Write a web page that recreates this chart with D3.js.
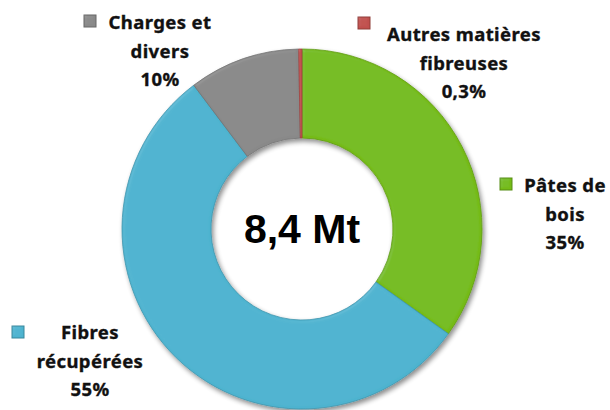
<!DOCTYPE html>
<html>
<head>
<meta charset="utf-8">
<script src="https://cdn.jsdelivr.net/npm/d3@7"></script>
<style>
  body { margin: 0; background: #fff; }
  .lbl { font-family: "Noto Sans", "DejaVu Sans", sans-serif; font-weight: 700; font-size: 18.5px; letter-spacing: 0.4px; fill: #111; stroke: #111; stroke-width: 0.35px; }
  .total { font-family: "Liberation Sans", Arial, sans-serif; font-weight: 700; font-size: 41px; fill: #000; }
</style>
</head>
<body>
<svg id="chart" width="610" height="410"></svg>
<script>
// data, in drawing order (clockwise from 12 o'clock)
const categories = ["Pâtes de bois", "Fibres récupérées", "Charges et divers", "Autres matières fibreuses"];
const shares = [35, 55, 10, 0.3];
const shareLabels = ["35%", "55%", "10%", "0,3%"];
const labelLines = [["Pâtes de", "bois"], ["Fibres", "récupérées"], ["Charges et", "divers"], ["Autres matières", "fibreuses"]];
const colors = ["#74bb17", "#4db3cf", "#898989", "#c0504d"];
const totalLabel = "8,4 Mt";

// label placement (text centre x, first baseline y, legend key x/y)
const labelPos = [
    {x: 565, y: 192, kx: 500, ky: 178},
    {x: 90, y: 339, kx: 12, ky: 326},
    {x: 160, y: 29, kx: 84, ky: 15},
    {x: 464, y: 41, kx: 358, ky: 17}
];

const svg = d3.select("#chart");
const cx = 302, cy = 229;
const outerR = 180, innerR = 91;

const defs = svg.append("defs");

// drop shadow
const shadow = defs.append("filter")
    .attr("id", "shadow")
    .attr("x", "-20%").attr("y", "-20%")
    .attr("width", "140%").attr("height", "140%");
shadow.append("feGaussianBlur").attr("in", "SourceAlpha").attr("stdDeviation", 2.5).attr("result", "blur");
shadow.append("feOffset").attr("in", "blur").attr("dx", 2).attr("dy", 3).attr("result", "off");
shadow.append("feComponentTransfer").attr("in", "off").attr("result", "soft")
    .append("feFuncA").attr("type", "linear").attr("slope", 0.45);
const merge = shadow.append("feMerge");
merge.append("feMergeNode").attr("in", "soft");
merge.append("feMergeNode").attr("in", "SourceGraphic");

// soft bevel on slice edges
const bevel = defs.append("filter").attr("id", "bevel");
bevel.append("feGaussianBlur").attr("in", "SourceAlpha").attr("stdDeviation", 1.5).attr("result", "b");
bevel.append("feSpecularLighting")
    .attr("in", "b").attr("surfaceScale", 2).attr("specularConstant", 0.4)
    .attr("specularExponent", 16).attr("lighting-color", "#ffffff").attr("result", "spec")
    .append("feDistantLight").attr("azimuth", 225).attr("elevation", 40);
bevel.append("feComposite").attr("in", "spec").attr("in2", "SourceAlpha").attr("operator", "in").attr("result", "specIn");
bevel.append("feComposite").attr("in", "SourceGraphic").attr("in2", "specIn")
    .attr("operator", "arithmetic").attr("k1", 0).attr("k2", 1).attr("k3", 0.12).attr("k4", 0);

const pie = d3.pie().sort(null).value(d => d);
const arc = d3.arc().innerRadius(innerR).outerRadius(outerR);

const g = svg.append("g")
    .attr("transform", `translate(${cx},${cy})`)
    .attr("filter", "url(#shadow)");

g.selectAll("path")
    .data(pie(shares))
    .enter()
    .append("path")
    .attr("d", arc)
    .attr("fill", (d, i) => colors[i])
    .attr("stroke", (d, i) => d3.color(colors[i]).darker(0.5))
    .attr("stroke-width", 0.8)
    .attr("filter", "url(#bevel)");

// centre total
svg.append("text")
    .attr("class", "total")
    .attr("x", cx)
    .attr("y", 243)
    .attr("text-anchor", "middle")
    .text(totalLabel);

// labels with legend keys
categories.forEach((c, i) => {
    const p = labelPos[i];
    const lines = labelLines[i].concat([shareLabels[i]]);
    const t = svg.append("text")
        .attr("class", "lbl")
        .attr("text-anchor", "middle");
    lines.forEach((ln, j) => {
        t.append("tspan")
            .attr("x", p.x)
            .attr("y", p.y + j * 28.5)
            .text(ln);
    });
    const kc = d3.color(colors[i]);
    svg.append("rect")
        .attr("x", p.kx).attr("y", p.ky)
        .attr("width", 12).attr("height", 12)
        .attr("fill", kc)
        .attr("stroke", kc.darker(0.8))
        .attr("stroke-width", 1)
        .attr("filter", "url(#bevel)");
});
</script>
</body>
</html>
